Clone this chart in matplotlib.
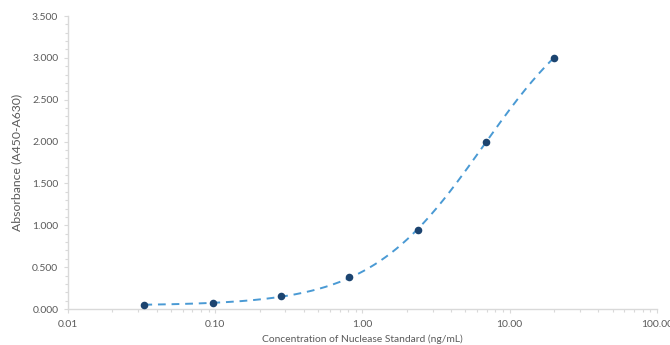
import numpy as np
import matplotlib
matplotlib.use("Agg")
import matplotlib.pyplot as plt
from matplotlib.ticker import LogLocator, FixedLocator, MultipleLocator, FuncFormatter

plt.rcParams['font.family'] = ['Lato', 'DejaVu Sans']

# Nuclease standard curve
conc_ng_ml = [0.033, 0.097, 0.28, 0.81, 2.38, 6.9, 20.0]
absorbance = [0.045, 0.070, 0.155, 0.380, 0.944, 2.000, 3.000]

x_ticks = [0.01, 0.1, 1, 10, 100]
x_tick_labels = ["0.01", "0.10", "1.00", "10.00", "100.00"]
y_ticks = [0.0, 0.5, 1.0, 1.5, 2.0, 2.5, 3.0, 3.5]


def four_pl(x, p):
    a, b, c, d = p
    return d + (a - d) / (1.0 + (x / c) ** b)


def fit_four_pl(x, y, p0, iters=400):
    """Levenberg-Marquardt fit of a four-parameter logistic curve."""
    p = np.array(p0, dtype=float)
    lam = 1e-2
    for _ in range(iters):
        r = y - four_pl(x, p)
        J = np.empty((len(x), 4))
        for k in range(4):
            dp = np.zeros(4)
            dp[k] = 1e-6 * max(abs(p[k]), 1e-3)
            J[:, k] = (four_pl(x, p + dp) - four_pl(x, p - dp)) / (2 * dp[k])
        A = J.T @ J
        g = J.T @ r
        step = np.linalg.solve(A + lam * np.diag(np.diag(A)), g)
        p_new = p + step
        if p_new[2] > 0 and np.sum((y - four_pl(x, p_new)) ** 2) < np.sum(r ** 2):
            p = p_new
            lam *= 0.5
        else:
            lam *= 4
    return p


xd = np.array(conc_ng_ml)
yd = np.array(absorbance)
params = fit_four_pl(xd, yd, [0.03, 1.2, 10.0, 5.0])
xs = np.logspace(np.log10(xd.min()), np.log10(xd.max()), 300)
ys = four_pl(xs, params)

fig = plt.figure(figsize=(6.7, 3.45), dpi=100)
ax = fig.add_axes([0.1015, 0.1043, 0.879, 0.8493])

ax.plot(xs, ys, linestyle=(0, (4, 3)), color="#4a9ad4", linewidth=1.4, zorder=2)
ax.scatter(xd, yd, s=30, color="#1c4470", zorder=3, linewidths=0)

ax.set_xscale("log")
ax.set_xlim(0.01, 100)
ax.set_ylim(0, 3.5)

ax.xaxis.set_major_locator(FixedLocator(x_ticks))
ax.set_xticklabels(x_tick_labels)
ax.xaxis.set_minor_locator(LogLocator(base=10, subs=np.arange(2, 10)))
ax.xaxis.set_minor_formatter(FuncFormatter(lambda v, pos: ""))

ax.yaxis.set_major_locator(FixedLocator(y_ticks))
ax.yaxis.set_major_formatter(FuncFormatter(lambda v, pos: f"{v:.3f}"))
ax.yaxis.set_minor_locator(MultipleLocator(0.1))

grey_line = "#d9d9d9"
text_col = "#5a5a5a"
for side in ["top", "right"]:
    ax.spines[side].set_visible(False)
for side in ["left", "bottom"]:
    ax.spines[side].set_color(grey_line)
    ax.spines[side].set_linewidth(1.0)

ax.tick_params(axis="both", which="major", direction="out", length=3,
               width=0.8, color=grey_line, labelsize=7.5, labelcolor=text_col, pad=4)
ax.tick_params(axis="both", which="minor", direction="out", length=2.5,
               width=0.8, color=grey_line)
ax.tick_params(axis="x", which="major", pad=5)

ax.set_xlabel("Concentration of Nuclease Standard (ng/mL)", fontsize=7.4, color=text_col, labelpad=4)
ax.set_ylabel("Absorbance (A450-A630)", fontsize=8.8, color=text_col, labelpad=7)

fig.savefig("out.png", dpi=100, facecolor="white")
